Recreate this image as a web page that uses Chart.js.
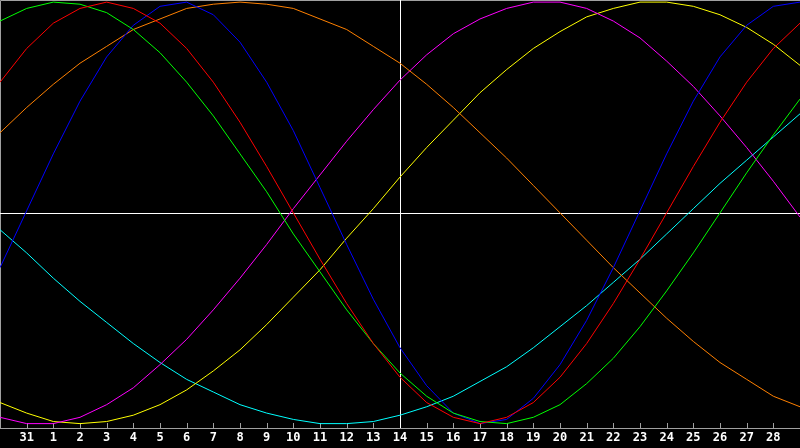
<!DOCTYPE html>
<html>
<head>
<meta charset="utf-8">
<script src="https://cdn.jsdelivr.net/npm/chart.js@4"></script>
<style>
  html, body { margin: 0; padding: 0; background: #000; }
  canvas { display: block; }
</style>
</head>
<body>
<canvas id="bio" width="800" height="448"></canvas>
<script>
  // day labels; blank at both edges (half-visible days)
  let dias = ["", "31", "1", "2", "3", "4", "5", "6", "7", "8", "9", "10", "11", "12", "13",
    "14", "15", "16", "17", "18", "19", "20", "21", "22", "23", "24", "25", "26", "27", "28", ""];

  let rojo = [0.62, 0.78, 0.90, 0.97, 1.00, 0.97, 0.90, 0.78, 0.62, 0.43, 0.22, 0.00, -0.22, -0.43, -0.62,
    -0.78, -0.90, -0.97, -1.00, -0.97, -0.90, -0.78, -0.62, -0.43, -0.22, 0.00, 0.22, 0.43, 0.62, 0.78, 0.90];
  let verde = [0.91, 0.97, 1.00, 0.99, 0.95, 0.87, 0.76, 0.62, 0.46, 0.28, 0.10, -0.10, -0.28, -0.46, -0.62,
    -0.76, -0.87, -0.95, -0.99, -1.00, -0.97, -0.91, -0.81, -0.69, -0.54, -0.37, -0.19, 0.00, 0.19, 0.37, 0.54];
  let azul = [-0.26, 0.01, 0.28, 0.53, 0.74, 0.89, 0.98, 1.00, 0.94, 0.81, 0.62, 0.39, 0.12, -0.15, -0.41,
    -0.64, -0.82, -0.95, -1.00, -0.98, -0.88, -0.72, -0.51, -0.26, 0.01, 0.28, 0.53, 0.74, 0.89, 0.98, 1.00];
  let naranja = [0.38, 0.50, 0.61, 0.71, 0.79, 0.87, 0.92, 0.97, 0.99, 1.00, 0.99, 0.97, 0.92, 0.87, 0.79,
    0.71, 0.61, 0.50, 0.38, 0.26, 0.13, 0.00, -0.13, -0.26, -0.38, -0.50, -0.61, -0.71, -0.79, -0.87, -0.92];
  let magenta = [-0.97, -1.00, -1.00, -0.97, -0.91, -0.83, -0.72, -0.60, -0.46, -0.31, -0.15, 0.02, 0.18, 0.34, 0.49,
    0.63, 0.75, 0.85, 0.92, 0.97, 1.00, 1.00, 0.97, 0.91, 0.83, 0.72, 0.60, 0.46, 0.31, 0.15, -0.02];
  let amarillo = [-0.90, -0.95, -0.99, -1.00, -0.99, -0.96, -0.91, -0.84, -0.75, -0.65, -0.53, -0.40, -0.27, -0.12, 0.02,
    0.17, 0.31, 0.44, 0.57, 0.68, 0.78, 0.86, 0.93, 0.97, 1.00, 1.00, 0.98, 0.94, 0.88, 0.80, 0.70];
  let cian = [-0.08, -0.19, -0.31, -0.42, -0.52, -0.62, -0.71, -0.79, -0.85, -0.91, -0.95, -0.98, -1.00, -1.00, -0.99,
    -0.96, -0.92, -0.87, -0.80, -0.73, -0.64, -0.54, -0.44, -0.33, -0.22, -0.10, 0.02, 0.14, 0.25, 0.36, 0.47];

  let diaCentral = "14";

  function serie(datos, color) {
    return {
      data: datos,
      borderColor: color,
      borderWidth: 1,
      pointRadius: 0,
      pointHoverRadius: 0,
      tension: 0,
      fill: false
    };
  }

  // background, frame, zero line, centre day line and inner tick marks
  let marco = {
    id: "marco",
    beforeDraw(chart) {
      let ctx = chart.ctx;
      ctx.save();
      ctx.fillStyle = "#000";
      ctx.fillRect(0, 0, chart.width, chart.height);
      ctx.restore();
    },
    beforeDatasetsDraw(chart) {
      let ctx = chart.ctx;
      let a = chart.chartArea;
      let x = chart.scales.x;
      let y = chart.scales.y;
      let abajo = Math.round(a.bottom);
      ctx.save();
      ctx.lineWidth = 1;
      ctx.strokeStyle = "#a0a0a0";
      ctx.beginPath();
      ctx.moveTo(a.left + 0.5, abajo);
      ctx.lineTo(a.left + 0.5, a.top + 0.5);
      ctx.lineTo(a.right, a.top + 0.5);
      ctx.moveTo(a.left, abajo + 0.5);
      ctx.lineTo(a.right, abajo + 0.5);
      for (let i = 0; i < dias.length; i++) {
        if (dias[i] === "") continue;
        let px = Math.round(x.getPixelForTick(i)) + 0.5;
        ctx.moveTo(px, abajo - 5);
        ctx.lineTo(px, abajo);
      }
      ctx.stroke();

      ctx.strokeStyle = "#ffffff";
      ctx.beginPath();
      let y0 = Math.round(y.getPixelForValue(0)) + 0.5;
      ctx.moveTo(a.left, y0);
      ctx.lineTo(a.right, y0);
      let xc = Math.round(x.getPixelForValue(dias.indexOf(diaCentral))) + 0.5;
      ctx.moveTo(xc, a.top);
      ctx.lineTo(xc, abajo);
      ctx.stroke();
      ctx.restore();
    }
  };

  let lienzo = document.getElementById("bio");
  let grafico = new Chart(lienzo, {
    type: "line",
    data: {
      labels: dias,
      datasets: [
        serie(rojo, "#ff0000"),
        serie(verde, "#00ff00"),
        serie(azul, "#0000ff"),
        serie(naranja, "#ff8000"),
        serie(magenta, "#ff00ff"),
        serie(amarillo, "#ffff00"),
        serie(cian, "#00ffff")
      ]
    },
    options: {
      responsive: false,
      animation: false,
      devicePixelRatio: 1,
      layout: { padding: 0, autoPadding: false },
      plugins: {
        legend: { display: false },
        title: { display: false },
        tooltip: { enabled: false }
      },
      scales: {
        x: {
          offset: false,
          grid: { display: false, drawTicks: false },
          border: { display: false },
          ticks: {
            autoSkip: false,
            maxRotation: 0,
            padding: 0,
            color: "#ffffff",
            font: { family: "DejaVu Sans Mono", size: 12, weight: "bold", lineHeight: 1.68 }
          }
        },
        y: {
          display: false,
          min: -1.02,
          max: 1.01
        }
      }
    },
    plugins: [marco]
  });
</script>
</body>
</html>
